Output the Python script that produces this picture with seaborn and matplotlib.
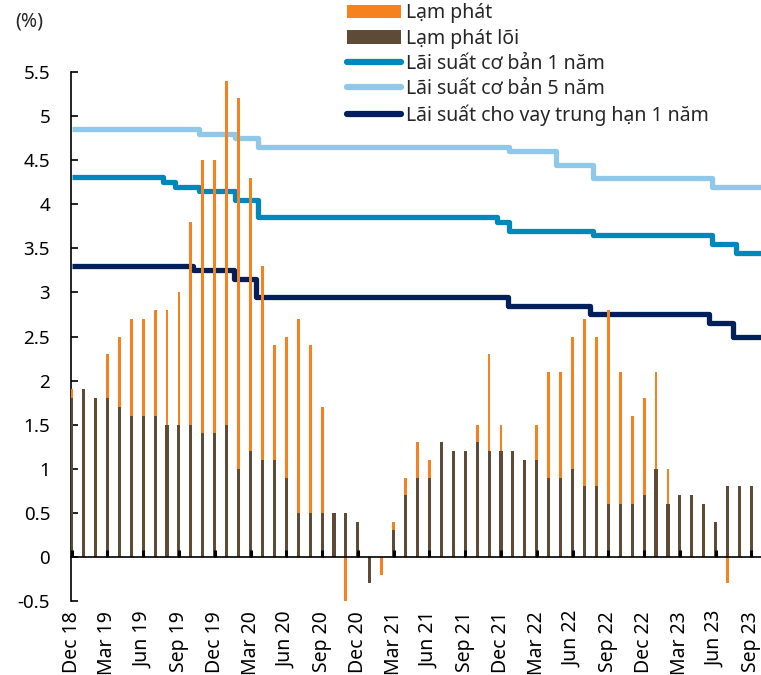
import pandas as pd
import numpy as np
import seaborn as sns
import matplotlib.pyplot as plt
from matplotlib.patches import Patch
from matplotlib.lines import Line2D

# Monthly data, Dec 2018 - Sep 2023 (% y/y)
first_month = "2018-12"
cpi = [1.9,
       1.7, 1.5, 2.3, 2.5, 2.7, 2.7, 2.8, 2.8, 3.0, 3.8, 4.5, 4.5,
       5.4, 5.2, 4.3, 3.3, 2.4, 2.5, 2.7, 2.4, 1.7, 0.5, -0.5, 0.2,
       -0.3, -0.2, 0.4, 0.9, 1.3, 1.1, 1.0, 0.8, 0.7, 1.5, 2.3, 1.5,
       0.9, 0.9, 1.5, 2.1, 2.1, 2.5, 2.7, 2.5, 2.8, 2.1, 1.6, 1.8,
       2.1, 1.0, 0.7, 0.1, 0.2, 0.0, -0.3, 0.1, 0.0]
core = [1.8,
        1.9, 1.8, 1.8, 1.7, 1.6, 1.6, 1.6, 1.5, 1.5, 1.5, 1.4, 1.4,
        1.5, 1.0, 1.2, 1.1, 1.1, 0.9, 0.5, 0.5, 0.5, 0.5, 0.5, 0.4,
        -0.3, 0.0, 0.3, 0.7, 0.9, 0.9, 1.3, 1.2, 1.2, 1.3, 1.2, 1.2,
        1.2, 1.1, 1.1, 0.9, 0.9, 1.0, 0.8, 0.8, 0.6, 0.6, 0.6, 0.7,
        1.0, 0.6, 0.7, 0.7, 0.6, 0.4, 0.8, 0.8, 0.8]

# Policy rates: dates of change and new level
lpr1_dates = ["2018-12-31", "2019-08-20", "2019-09-20", "2019-11-20", "2020-02-20",
              "2020-04-20", "2021-12-20", "2022-01-20", "2022-08-22", "2023-06-20",
              "2023-08-21"]
lpr1_vals = [4.31, 4.25, 4.20, 4.15, 4.05, 3.85, 3.80, 3.70, 3.65, 3.55, 3.45]
lpr5_dates = ["2018-12-31", "2019-11-20", "2020-02-20", "2020-04-20", "2022-01-20",
              "2022-05-20", "2022-08-22", "2023-06-20"]
lpr5_vals = [4.85, 4.80, 4.75, 4.65, 4.60, 4.45, 4.30, 4.20]
mlf_dates = ["2018-12-31", "2019-11-05", "2020-02-17", "2020-04-15", "2022-01-17",
             "2022-08-15", "2023-06-13", "2023-08-15"]
mlf_vals = [3.30, 3.25, 3.15, 2.95, 2.85, 2.75, 2.65, 2.50]
end_date = "2023-10-25"

c_cpi = "#F5821F"
c_core = "#5D4A37"
c_lpr1 = "#0087BE"
c_lpr5 = "#8FC8E9"
c_mlf = "#00205B"


def month_pos(d):
    # position in months, 0 = end of Dec 2018
    d = pd.Timestamp(d)
    return (d.year - 2019) * 12 + d.month - 1 + d.day / d.days_in_month


months = pd.period_range(first_month, periods=len(cpi), freq="M")
xpos = np.arange(len(cpi))
labels = [m.strftime("%b %y") for m in months]

sns.set_theme(style="white")
plt.rcParams["font.family"] = ["Noto Sans", "DejaVu Sans"]
fs = 14

fig = plt.figure(figsize=(7.61, 6.75), dpi=100)
ax = fig.add_axes([71 / 761, 74 / 675, 690 / 761, 529 / 675])


def step_frame(dates, vals):
    x = [month_pos(d) for d in dates] + [month_pos(end_date)]
    y = list(vals) + [vals[-1]]
    return pd.DataFrame({"x": x, "y": y})


for dates, vals, col in [(mlf_dates, mlf_vals, c_mlf),
                         (lpr1_dates, lpr1_vals, c_lpr1),
                         (lpr5_dates, lpr5_vals, c_lpr5)]:
    df = step_frame(dates, vals)
    sns.lineplot(data=df, x="x", y="y", drawstyle="steps-post", color=col,
                 lw=3.8, estimator=None, ax=ax, zorder=2,
                 solid_joinstyle="round", solid_capstyle="butt")

sns.barplot(x=xpos, y=cpi, native_scale=True, width=0.24, color=c_cpi,
            saturation=1, ax=ax, zorder=3, linewidth=0)
sns.barplot(x=xpos, y=core, native_scale=True, width=0.26, color=c_core,
            saturation=1, ax=ax, zorder=4, linewidth=0)

ax.set_xlim(-0.05, 57.8)
ax.set_ylim(-0.5, 5.5)
ax.set_yticks(np.arange(-0.5, 5.51, 0.5))
ax.set_yticklabels([f"{v:g}" for v in np.arange(-0.5, 5.51, 0.5)])
ax.set_xticks(xpos[::3])
ax.set_xticklabels(labels[::3])
ax.set_xlabel("")
ax.set_ylabel("")

ax.spines["top"].set_visible(False)
ax.spines["right"].set_visible(False)
ax.spines["left"].set_color("black")
ax.spines["left"].set_linewidth(1.2)
ax.spines["bottom"].set_position(("data", 0))
ax.spines["bottom"].set_color("black")
ax.spines["bottom"].set_linewidth(1.2)
ax.spines["bottom"].set_zorder(5)
ax.xaxis.set_zorder(5)
ax.tick_params(axis="y", direction="in", length=5, width=1.2, pad=15,
               colors="black", labelsize=fs - 0.5, left=True)
ax.tick_params(axis="x", direction="in", length=5, width=2.2, pad=39,
               colors="black", labelsize=fs, bottom=True, labelrotation=90)
for t in ax.get_xticklabels():
    t.set_rotation(90)
    t.set_va("top")
    t.set_ha("center")

fig.text(15 / 761, 1 - 22 / 675, "(%)", fontsize=fs, va="center", ha="left")

handles = [Patch(facecolor=c_cpi, edgecolor="none"),
           Patch(facecolor=c_core, edgecolor="none"),
           Line2D([0], [0], color=c_lpr1, lw=4.5, solid_capstyle="round"),
           Line2D([0], [0], color=c_lpr5, lw=4.5, solid_capstyle="round"),
           Line2D([0], [0], color=c_mlf, lw=4.5, solid_capstyle="round")]
names = ["Lạm phát", "Lạm phát lõi", "Lãi suất cơ bản 1 năm",
         "Lãi suất cơ bản 5 năm", "Lãi suất cho vay trung hạn 1 năm"]
fig.legend(handles, names, loc="upper left", bbox_to_anchor=(347 / 761, 0.995),
           frameon=False, fontsize=fs, handlelength=2.8, handleheight=0.7,
           handletextpad=0.25, labelspacing=0.27, borderpad=0, borderaxespad=0)

fig.savefig("out.png", dpi=100)
